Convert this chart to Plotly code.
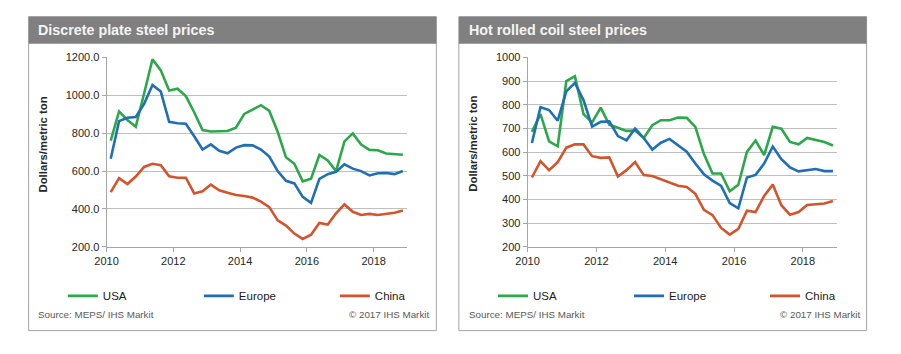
import plotly.graph_objects as go

W, H = 901, 354

# ---------------- data (quarterly, mid-quarter) ----------------
quarters = [2010.125 + 0.25 * i for i in range(36)]

plate_usa = [761, 915, 870, 834, 1010, 1191, 1132, 1026, 1035, 996, 911, 817,
             809, 809, 812, 829, 902, 925, 948, 918, 808, 673, 639, 546,
             560, 685, 656, 600, 757, 799, 740, 712, 710, 693, 690, 686]
plate_europe = [665, 864, 882, 886, 955, 1055, 1020, 860, 853, 850, 784, 714,
                741, 707, 694, 724, 737, 736, 714, 677, 600, 549, 535, 464,
                432, 559, 584, 596, 636, 613, 600, 577, 589, 590, 584, 601]
plate_china = [489, 563, 532, 571, 622, 639, 631, 573, 565, 565, 482, 493,
               529, 499, 486, 474, 469, 460, 439, 410, 340, 312, 270, 242,
               264, 326, 318, 377, 424, 385, 368, 374, 368, 373, 380, 392]

coil_usa = [686, 761, 646, 625, 900, 921, 761, 726, 788, 716, 703, 690,
            691, 660, 714, 735, 735, 746, 745, 707, 592, 510, 510, 435,
            462, 601, 649, 588, 707, 699, 643, 633, 660, 653, 643, 628]
coil_europe = [639, 790, 778, 733, 857, 893, 820, 708, 728, 730, 668, 650,
               700, 660, 611, 640, 656, 630, 602, 552, 507, 480, 457, 385,
               363, 493, 504, 552, 624, 570, 536, 519, 524, 529, 520, 520]
coil_china = [493, 562, 524, 558, 619, 633, 633, 583, 576, 578, 497, 524,
              558, 503, 499, 486, 473, 458, 453, 424, 356, 334, 280, 252,
              276, 353, 347, 415, 463, 376, 336, 347, 377, 380, 383, 394]

series_names = ["USA", "Europe", "China"]
series_colors = ["#2ba84a", "#1f6fb4", "#d4542b"]

panel_titles = ["Discrete plate steel prices", "Hot rolled coil steel prices"]
y_title = "Dollars/metric ton"
source_text = "Source: MEPS/ IHS Markit"
copyright_text = "© 2017 IHS Markit"

x_ticks = [2010, 2012, 2014, 2016, 2018]
plate_yticks = [200, 400, 600, 800, 1000, 1200]
coil_yticks = [200, 300, 400, 500, 600, 700, 800, 900, 1000]

# ---------------- helpers ----------------
def px(x):
    return x / W

def py(y):
    return 1 - y / H

FONT = "Liberation Sans, Arial, sans-serif"

fig = go.Figure()

panels = [
    dict(data=[plate_usa, plate_europe, plate_china], xa="x", ya="y", legend="legend"),
    dict(data=[coil_usa, coil_europe, coil_china], xa="x2", ya="y2", legend="legend2"),
]

for p in panels:
    for name, vals, col in zip(series_names, p["data"], series_colors):
        fig.add_trace(go.Scatter(
            x=quarters, y=vals, name=name, mode="lines",
            line=dict(color=col, width=2.6),
            xaxis=p["xa"], yaxis=p["ya"], legend=p["legend"],
            hoverinfo="skip",
        ))

axis_common_x = dict(
    range=[2010, 2019], tickvals=x_ticks, showgrid=False, zeroline=False,
    showline=True, linecolor="#a6a6a6", linewidth=1,
    ticks="outside", ticklen=4, tickcolor="#a6a6a6",
    tickfont=dict(family=FONT, size=11, color="#262626"),
    fixedrange=True,
)
axis_common_y = dict(
    showgrid=True, gridcolor="#bfbfbf", gridwidth=1, zeroline=False,
    showline=True, linecolor="#a6a6a6", linewidth=1,
    ticks="outside", ticklen=4, tickcolor="#a6a6a6",
    tickfont=dict(family=FONT, size=11, color="#262626"),
    fixedrange=True,
)

ydom = [py(249.3), py(53.3)]

legend_common = dict(orientation="h", yanchor="middle", xanchor="left",
                     entrywidth=91, entrywidthmode="pixels", itemwidth=30,
                     font=dict(family=FONT, size=11.5, color="#1a1a1a"),
                     bgcolor="rgba(0,0,0,0)", tracegroupgap=0)

fig.update_layout(
    width=W, height=H,
    margin=dict(l=0, r=0, t=0, b=0),
    paper_bgcolor="white", plot_bgcolor="white",
    xaxis=dict(domain=[px(96.7), px(404)], anchor="y", **axis_common_x),
    yaxis=dict(domain=ydom, anchor="x", range=[200, 1200], tickvals=plate_yticks,
               tickformat=".1f", **axis_common_y),
    xaxis2=dict(domain=[px(527.3), px(844)], anchor="y2", **axis_common_x),
    yaxis2=dict(domain=ydom, anchor="x2", range=[200, 1000], tickvals=coil_yticks,
                **axis_common_y),
    legend=dict(x=px(52), y=py(300), **legend_common),
    legend2=dict(x=px(492), y=py(300), **legend_common),
    showlegend=True,
)

shapes = []
annotations = []
boxes = [(17, 434), (457, 874)]
for i, (x0, x1) in enumerate(boxes):
    # panel border
    shapes.append(dict(type="rect", xref="paper", yref="paper",
                       x0=px(x0), x1=px(x1), y0=py(336), y1=py(11),
                       line=dict(color="#a6a6a6", width=1), fillcolor="rgba(0,0,0,0)",
                       layer="below"))
    # title bar
    shapes.append(dict(type="rect", xref="paper", yref="paper",
                       x0=px(x0), x1=px(x1), y0=py(39), y1=py(11),
                       line=dict(width=0), fillcolor="#808080", layer="below"))
    annotations.append(dict(text="<b>" + panel_titles[i] + "</b>", xref="paper", yref="paper",
                            x=px(x0 + 8), y=py(25), xanchor="left", yanchor="middle",
                            showarrow=False,
                            font=dict(family=FONT, size=14.3, color="#f4f4f4")))
    # y-axis title
    annotations.append(dict(text="<b>" + y_title + "</b>", xref="paper", yref="paper",
                            x=px(x0 + 15), y=py(143), xanchor="center", yanchor="middle",
                            textangle=-90, showarrow=False,
                            font=dict(family=FONT, size=11.3, color="#262626")))
    # source / copyright
    annotations.append(dict(text=source_text, xref="paper", yref="paper",
                            x=px(x0 + 8), y=py(319), xanchor="left", yanchor="middle",
                            showarrow=False,
                            font=dict(family=FONT, size=9.8, color="#595959")))
    annotations.append(dict(text=copyright_text, xref="paper", yref="paper",
                            x=px(x1 - 5), y=py(319), xanchor="right", yanchor="middle",
                            showarrow=False,
                            font=dict(family=FONT, size=9.8, color="#595959")))

fig.update_layout(shapes=shapes, annotations=annotations)

fig.write_html("out.html", post_script="document.body.style.margin='0';")
